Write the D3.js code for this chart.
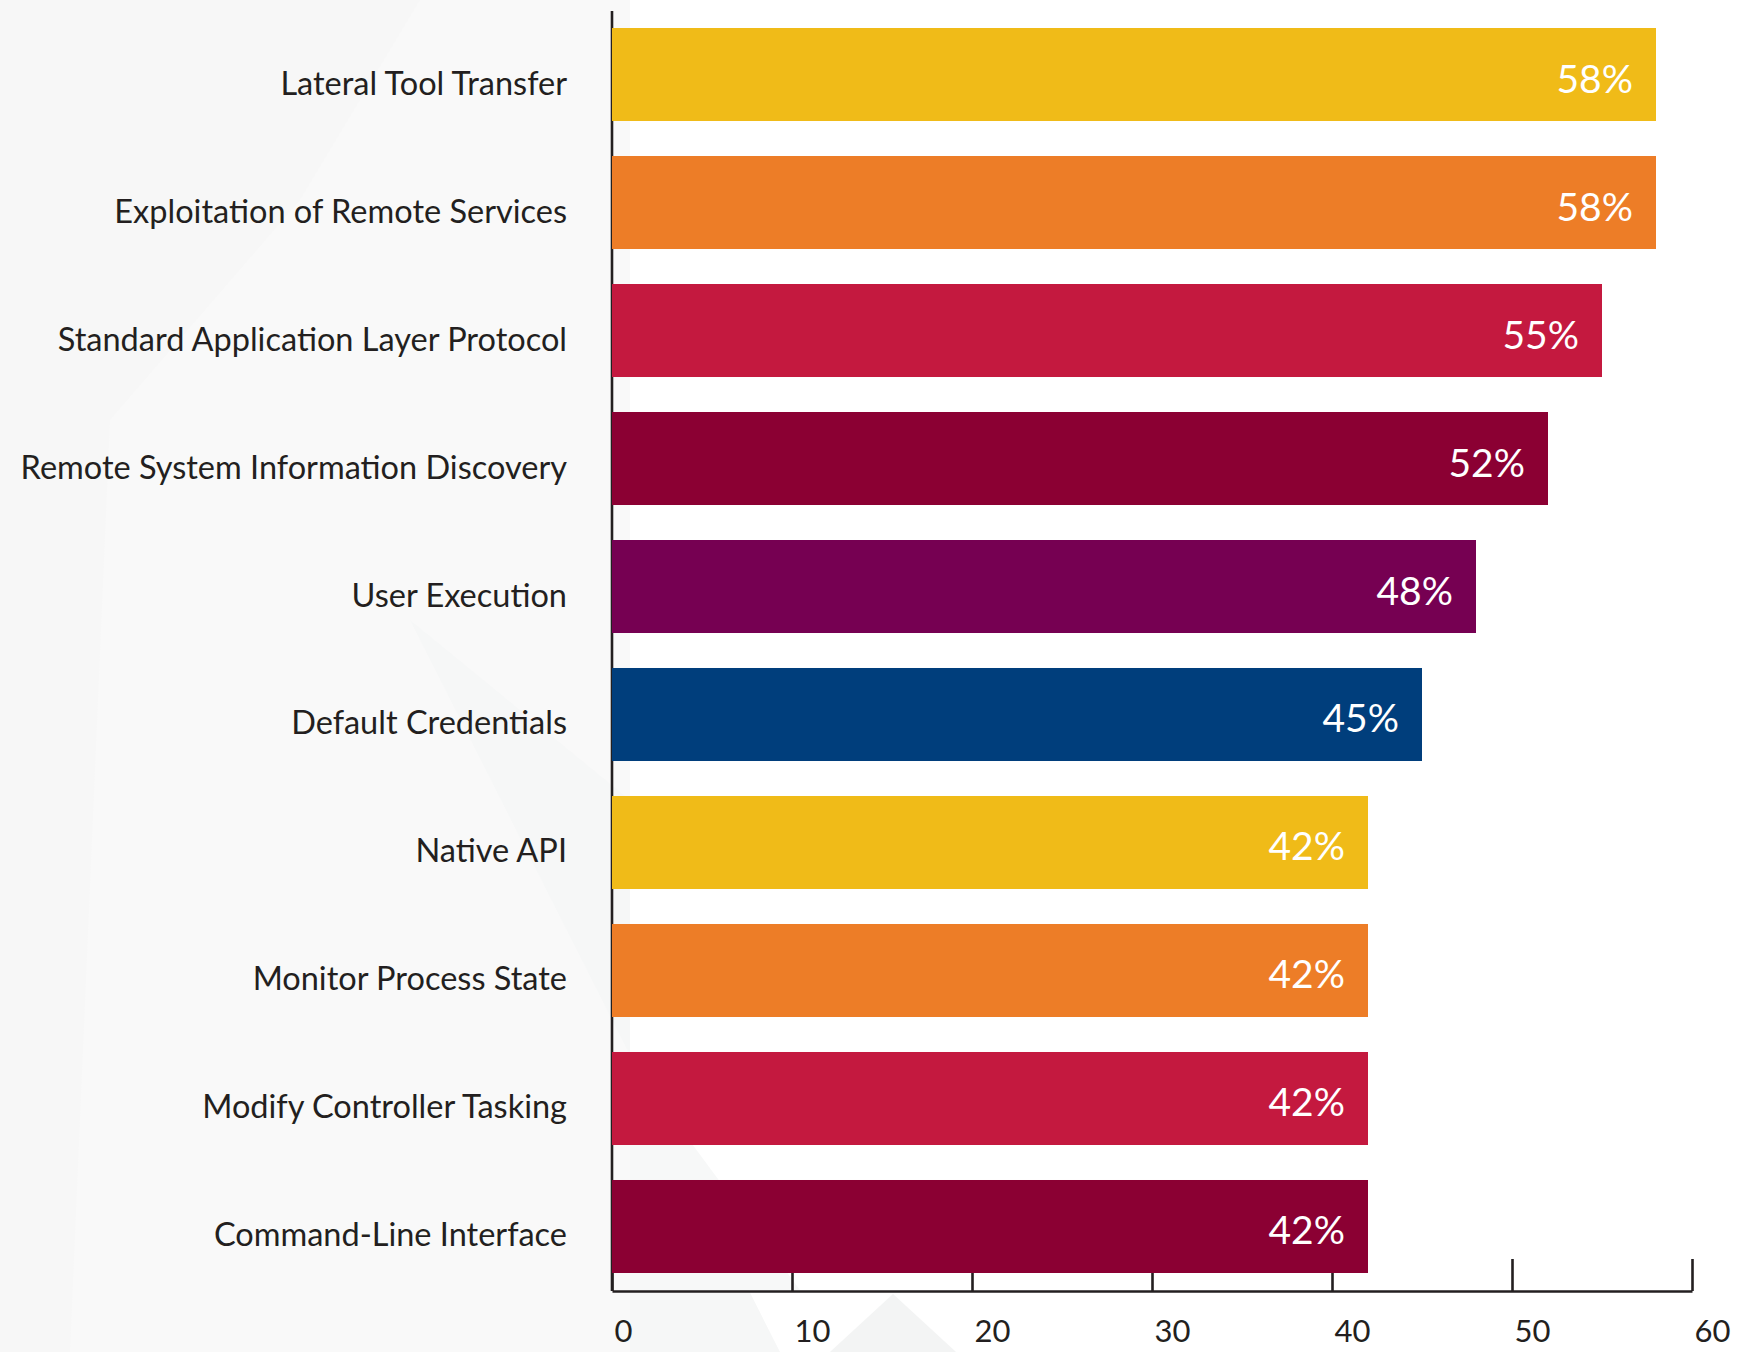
<!DOCTYPE html>
<html>
<head>
<meta charset="utf-8">
<script src="https://cdn.jsdelivr.net/npm/d3@7"></script>
<style>
  html, body { margin: 0; padding: 0; background: #ffffff; }
  svg { display: block; }
</style>
</head>
<body>
<svg id="chart" width="1750" height="1352"></svg>
<script>
// ---- data ----
const categories = [
  "Lateral Tool Transfer",
  "Exploitation of Remote Services",
  "Standard Application Layer Protocol",
  "Remote System Information Discovery",
  "User Execution",
  "Default Credentials",
  "Native API",
  "Monitor Process State",
  "Modify Controller Tasking",
  "Command-Line Interface"
];
const values = [58, 58, 55, 52, 48, 45, 42, 42, 42, 42];
const barColors = ["#f0bb18", "#ed7d27", "#c4193f", "#8b0033", "#760052", "#003e7c",
                   "#f0bb18", "#ed7d27", "#c4193f", "#8b0033"];
const xTicks = [0, 10, 20, 30, 40, 50, 60];

// ---- layout ----
const W = 1750, H = 1352;
const svg = d3.select("#chart");
const textColor = "#231f20";
const font = "Lato, 'Open Sans', sans-serif";

const x = d3.scaleLinear().domain([0, 60]).range([612, 1692]);
const y = d3.scaleBand().domain(categories).range([28, 1273]).paddingInner(0.2734).paddingOuter(0);
const axisY = 1291;

// ---- background ----
svg.append("rect").attr("x", 0).attr("y", 0).attr("width", W).attr("height", H).attr("fill", "#ffffff");
svg.append("rect").attr("x", 0).attr("y", 0).attr("width", 630).attr("height", H).attr("fill", "#f9f9f9");
svg.append("path")
  .attr("d", "M0,0 L420,0 L300,200 L110,420 L70,1352 L0,1352 Z")
  .attr("fill", "#f7f7f7");
svg.append("path")
  .attr("d", "M410,620 L630,800 L630,1352 L780,1352 Z")
  .attr("fill", "#f6f7f7");
svg.append("path")
  .attr("d", "M630,1060 L800,1290 L630,1290 Z")
  .attr("fill", "#f7f8f8");
svg.append("path")
  .attr("d", "M830,1352 L893,1294 L956,1352 Z")
  .attr("fill", "#f3f4f4");

// ---- x axis (ticks drawn under bars) ----
const xAxis = d3.axisBottom(x).tickValues(xTicks).tickSize(-32).tickSizeOuter(0).tickPadding(0);
const gx = svg.append("g").attr("transform", `translate(0,${axisY})`).call(xAxis);
gx.select(".domain").attr("stroke", textColor).attr("stroke-width", 2.6);
gx.selectAll(".tick line").attr("stroke", textColor).attr("stroke-width", 2.6);
gx.selectAll(".tick text")
  .attr("y", 51).attr("x", 2).attr("dy", null)
  .attr("text-anchor", "start")
  .attr("fill", textColor)
  .style("font-family", font).style("font-size", "31px");

// vertical axis line
svg.append("line")
  .attr("x1", x(0)).attr("x2", x(0))
  .attr("y1", 11).attr("y2", axisY)
  .attr("stroke", textColor).attr("stroke-width", 2.6);

// ---- bars ----
svg.append("g").selectAll("rect")
  .data(categories)
  .join("rect")
  .attr("x", x(0))
  .attr("y", d => y(d))
  .attr("width", (d, i) => x(values[i]) - x(0))
  .attr("height", y.bandwidth())
  .attr("fill", (d, i) => barColors[i]);

// value labels
svg.append("g").selectAll("text")
  .data(categories)
  .join("text")
  .attr("x", (d, i) => x(values[i]) - 23)
  .attr("y", d => y(d) + y.bandwidth() / 2 + 18)
  .attr("text-anchor", "end")
  .attr("fill", "#ffffff")
  .style("font-family", font).style("font-size", "39px")
  .text((d, i) => values[i] + "%");

// category labels
svg.append("g").selectAll("text")
  .data(categories)
  .join("text")
  .attr("x", 567)
  .attr("y", d => y(d) + y.bandwidth() / 2 + 20)
  .attr("text-anchor", "end")
  .attr("fill", textColor)
  .style("font-family", font).style("font-size", "32.5px")
  .text(d => d);
</script>
</body>
</html>
